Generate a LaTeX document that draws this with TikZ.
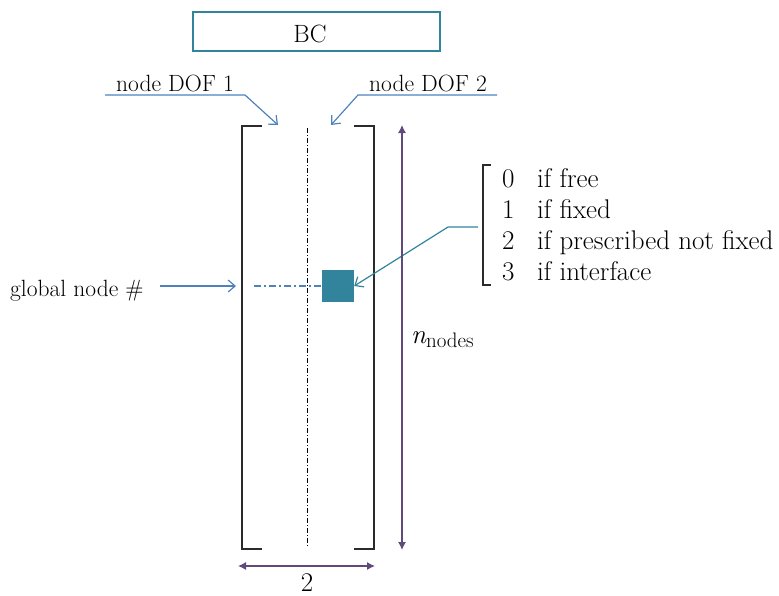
\documentclass[tikz,border=0pt]{standalone}
\usepackage{fontspec}
\usetikzlibrary{arrows.meta}
\definecolor{lineblue}{HTML}{4F81BD}
\definecolor{tealc}{HTML}{31849B}
\definecolor{purplec}{HTML}{604A7B}
\definecolor{bracketc}{HTML}{2B2B2B}
\tikzset{
  lbl/.style={inner sep=0pt, font=\fontsize{23.5}{28}\selectfont},
  big/.style={inner sep=0pt, font=\fontsize{27}{32}\selectfont},
  pointer/.style={draw=lineblue, line width=1.2pt, -{Straight Barb[length=7pt,width=12pt,line width=1.2pt]}},
  tealpointer/.style={draw=tealc, line width=1.2pt, -{Straight Barb[length=7pt,width=12pt,line width=1.2pt]}},
  dim/.style={draw=purplec, line width=1.2pt, {Latex[length=8pt,width=8pt]}-{Latex[length=8pt,width=8pt]}},
  brk/.style={draw=bracketc, line width=1.5pt},
}
\begin{document}
\begin{tikzpicture}[x=1pt,y=-1pt]
\useasboundingbox (0,0) rectangle (779,595);

% BC header box
\node[draw=tealc, line width=2pt, minimum width=247pt, minimum height=39pt, inner sep=0pt] (bcbox) at (316.5,31.5) {};
\node[inner sep=0pt, font=\fontsize{25}{30}\selectfont, anchor=base] (bc) at (310,42) {BC};

% column labels with leader lines
\node[lbl, anchor=base] (dof1) at (175,91) {node DOF 1};
\node[lbl, anchor=base] (dof2) at (428,91) {node DOF 2};
\coordinate (d1a) at (105,95);
\coordinate (d1b) at (245,95);
\coordinate (d1t) at (278,125);
\coordinate (d2a) at (497,95);
\coordinate (d2b) at (358,95);
\coordinate (d2t) at (331,125);
\draw[pointer] (d1a) -- (d1b) -- (d1t);
\draw[pointer] (d2a) -- (d2b) -- (d2t);

% matrix brackets
\coordinate (lt) at (242,126);
\coordinate (lb) at (242,549);
\coordinate (rt) at (374,126);
\coordinate (rb) at (374,549);
\draw[brk] ([xshift=20pt]lt) -- (lt) -- (lb) -- ([xshift=20pt]lb);
\draw[brk] ([xshift=-20pt]rt) -- (rt) -- (rb) -- ([xshift=-20pt]rb);

% column separator
\coordinate (ct) at (307,128);
\coordinate (cb) at (307,546);
\draw[black, line width=0.6pt, dash pattern=on 5pt off 2pt on 1pt off 2pt] (ct) -- (cb);

% selected entry
\node[fill=tealc, minimum size=32pt, inner sep=0pt] (entry) at (338,286) {};
\coordinate (rowstart) at (254,286);
\draw[lineblue, line width=1.1pt, dash pattern=on 7pt off 3pt on 2pt off 3pt] (rowstart) -- (entry.west);

% row label
\node[lbl, anchor=base west] (gnode) at (10,296) {global node \#};
\coordinate (ga) at (160,286);
\coordinate (gt) at (236,286);
\draw[pointer] (ga) -- (gt);

% code list
\coordinate (kt) at (483,165);
\coordinate (kb) at (483,285);
\draw[brk] ([xshift=8pt]kt) -- (kt) -- (kb) -- ([xshift=8pt]kb);
\node[big, anchor=base west] (k0) at (502,187) {0};
\node[big, anchor=base west] (k1) at (502,218) {1};
\node[big, anchor=base west] (k2) at (502,249) {2};
\node[big, anchor=base west] (k3) at (502,280) {3};
\node[big, anchor=base west] (t0) at (537,187) {if free};
\node[big, anchor=base west] (t1) at (537,218) {if fixed};
\node[big, anchor=base west] (t2) at (537,249) {if prescribed not fixed};
\node[big, anchor=base west] (t3) at (537,280) {if interface};
\coordinate (ka) at (478,227);
\coordinate (kc) at (448,227);
\draw[tealpointer] (ka) -- (kc) -- (entry.east);

% dimensions
\coordinate (vt) at (402,125);
\coordinate (vb) at (402,550);
\draw[dim] (vt) -- (vb);
\node[big, anchor=base west] (nn) at (411,343) {\itshape n\raisebox{-4.5pt}{\upshape\fontsize{21}{24}\selectfont nodes}};
\coordinate (hl) at (238,566);
\coordinate (hr) at (375,566);
\draw[dim] (hl) -- (hr);
\node[big, anchor=base] (two) at (307,591) {2};
\end{tikzpicture}
\end{document}
